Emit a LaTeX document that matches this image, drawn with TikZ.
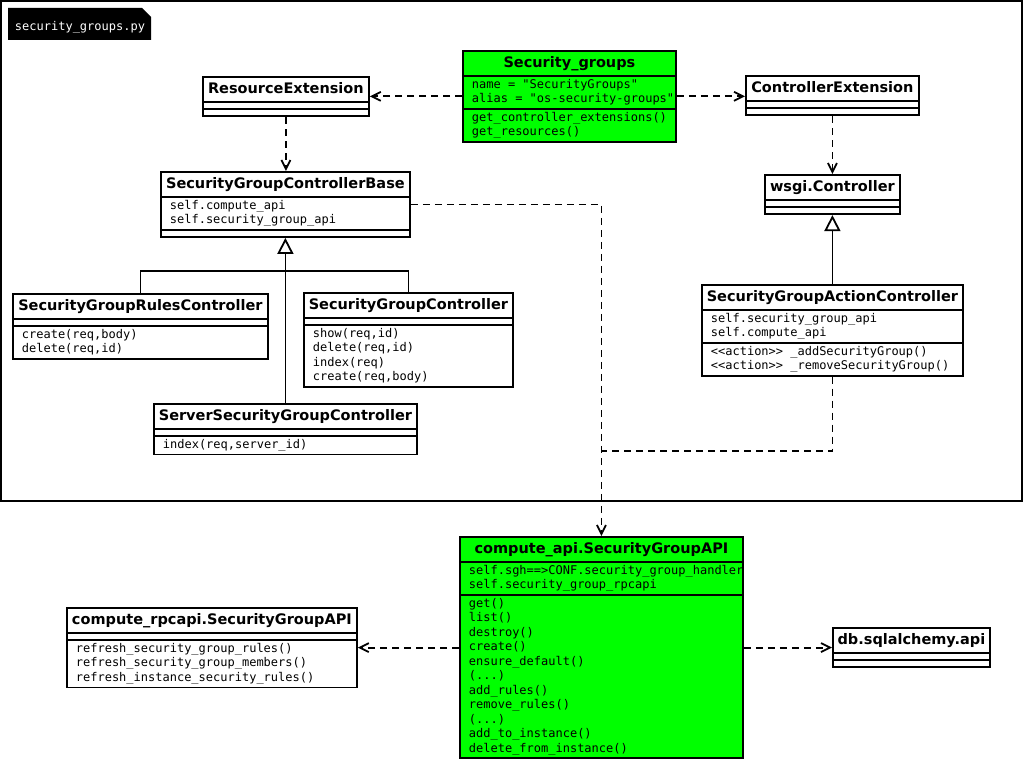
\documentclass[tikz,border=0pt]{standalone}
\usepackage{fontspec}
\setmainfont{DejaVu Sans}
\setmonofont{DejaVu Sans Mono}
\usetikzlibrary{shapes.multipart,arrows.meta}
\definecolor{classgreen}{RGB}{0,255,0}
\newcommand{\classname}[1]{\hbox to 0pt{\hss\normalfont\bfseries\fontsize{14.5pt}{21.5pt}\selectfont\strut #1\hss}}
\newcommand{\nomembers}{\rule{0pt}{3.2pt}}
\tikzset{
  umlclass/.style={draw, line width=1.8pt, anchor=north west, fill=white,
    rectangle split, rectangle split parts=3,
    rectangle split part align={center,left,left},
    inner xsep=9pt, inner ysep=1pt, align=left,
    font=\ttfamily\fontsize{12pt}{14.5pt}\selectfont},
  depend/.style={line width=1.8pt, dash pattern=on 7pt off 5pt, -{Straight Barb[length=9pt,width=9pt]}},
  inherit/.style={line width=1.8pt, -{Triangle[open,length=16pt,width=16pt]}}
}
\begin{document}
\begin{tikzpicture}[x=1pt, y=-1pt]
    \useasboundingbox (0,0) rectangle (1024,759);
    % module frame
    \draw[line width=2pt] (1,1) rectangle (1022,501);
    \fill (8,8) -- (142,8) -- (151,17) -- (151,40) -- (8,40) -- cycle;
    \node[white, font=\ttfamily\fontsize{12pt}{14.5pt}\selectfont] (tabname) at (80,27) {security\_groups.py};

    % classes
    \node[umlclass, fill=classgreen, minimum width=213pt] (secgroups) at (462,50)
        {\classname{Security\_groups}
         \nodepart{second}\strut name = "SecurityGroups"\\ \rlap{alias = "os-security-groups"}\strut
         \nodepart{third}\strut get\_controller\_extensions()\\ get\_resources()\strut};
    \node[umlclass, minimum width=166pt] (resext) at (202,76)
        {\classname{ResourceExtension} \nodepart{second}\nomembers \nodepart{third}\nomembers};
    \node[umlclass, minimum width=173pt] (ctrlext) at (745,75)
        {\classname{ControllerExtension} \nodepart{second}\nomembers \nodepart{third}\nomembers};
    \node[umlclass, minimum width=249pt] (cbase) at (160,171)
        {\classname{SecurityGroupControllerBase}
         \nodepart{second}\strut self.compute\_api\\ self.security\_group\_api\strut
         \nodepart{third}\nomembers};
    \node[umlclass, minimum width=135pt] (wsgi) at (764,174)
        {\classname{wsgi.Controller} \nodepart{second}\nomembers \nodepart{third}\nomembers};
    \node[umlclass, minimum width=261pt] (actctrl) at (701,284)
        {\classname{SecurityGroupActionController}
         \nodepart{second}\strut self.security\_group\_api\\ self.compute\_api\strut
         \nodepart{third}\strut <<action>> \_addSecurityGroup()\\ <<action>> \_removeSecurityGroup()\strut};
    \node[umlclass, minimum width=255pt] (rulesctrl) at (12,293)
        {\classname{SecurityGroupRulesController}
         \nodepart{second}\nomembers
         \nodepart{third}\strut create(req,body)\\ delete(req,id)\strut};
    \node[umlclass, minimum width=209pt] (sgctrl) at (303,292)
        {\classname{SecurityGroupController}
         \nodepart{second}\nomembers
         \nodepart{third}\strut show(req,id)\\ delete(req,id)\\ index(req)\\ create(req,body)\strut};
    \node[umlclass, minimum width=263pt] (serverctrl) at (153,403)
        {\classname{ServerSecurityGroupController}
         \nodepart{second}\nomembers
         \nodepart{third}\strut index(req,server\_id)\strut};
    \node[umlclass, fill=classgreen, minimum width=283pt] (capi) at (459,536)
        {\classname{compute\_api.SecurityGroupAPI}
         \nodepart{second}\strut\rlap{self.sgh==>CONF.security\_group\_handler}\\ self.security\_group\_rpcapi\strut
         \nodepart{third}\strut get()\\ list()\\ destroy()\\ create()\\ ensure\_default()\\ (...)\\
            add\_rules()\\ remove\_rules()\\ (...)\\ add\_to\_instance()\\ delete\_from\_instance()\strut};
    \node[umlclass, minimum width=290pt] (rpcapi) at (66,607)
        {\classname{compute\_rpcapi.SecurityGroupAPI}
         \nodepart{second}\nomembers
         \nodepart{third}\strut refresh\_security\_group\_rules()\\ refresh\_security\_group\_members()\\ refresh\_instance\_security\_rules()\strut};
    \node[umlclass, minimum width=157pt] (db) at (832,627)
        {\classname{db.sqlalchemy.api} \nodepart{second}\nomembers \nodepart{third}\nomembers};

    % dependencies
    \draw[depend] (secgroups.west) -- (secgroups.west -| resext.east);
    \draw[depend] (secgroups.east) -- (secgroups.east -| ctrlext.west);
    \draw[depend] (resext.south) -- (resext.south |- cbase.north);
    \draw[depend] (ctrlext.south) -- (ctrlext.south |- wsgi.north);
    \draw[depend] (cbase.east) -| (capi.north);
    \coordinate (merge) at (capi.north |- 0,451);
    \draw[depend, -] (actctrl.south) |- (merge);
    \draw[depend] (capi.west) -- (capi.west -| rpcapi.east);
    \draw[depend] (capi.east) -- (capi.east -| db.west);

    % inheritance
    \coordinate (join) at (cbase.south |- 0,271);
    \draw[line width=1.8pt] (rulesctrl.north) |- (join) -| (sgctrl.north);
    \draw[inherit] (serverctrl.north) -- (cbase.south);
    \draw[inherit] (actctrl.north) -- (wsgi.south);
\end{tikzpicture}
\end{document}
